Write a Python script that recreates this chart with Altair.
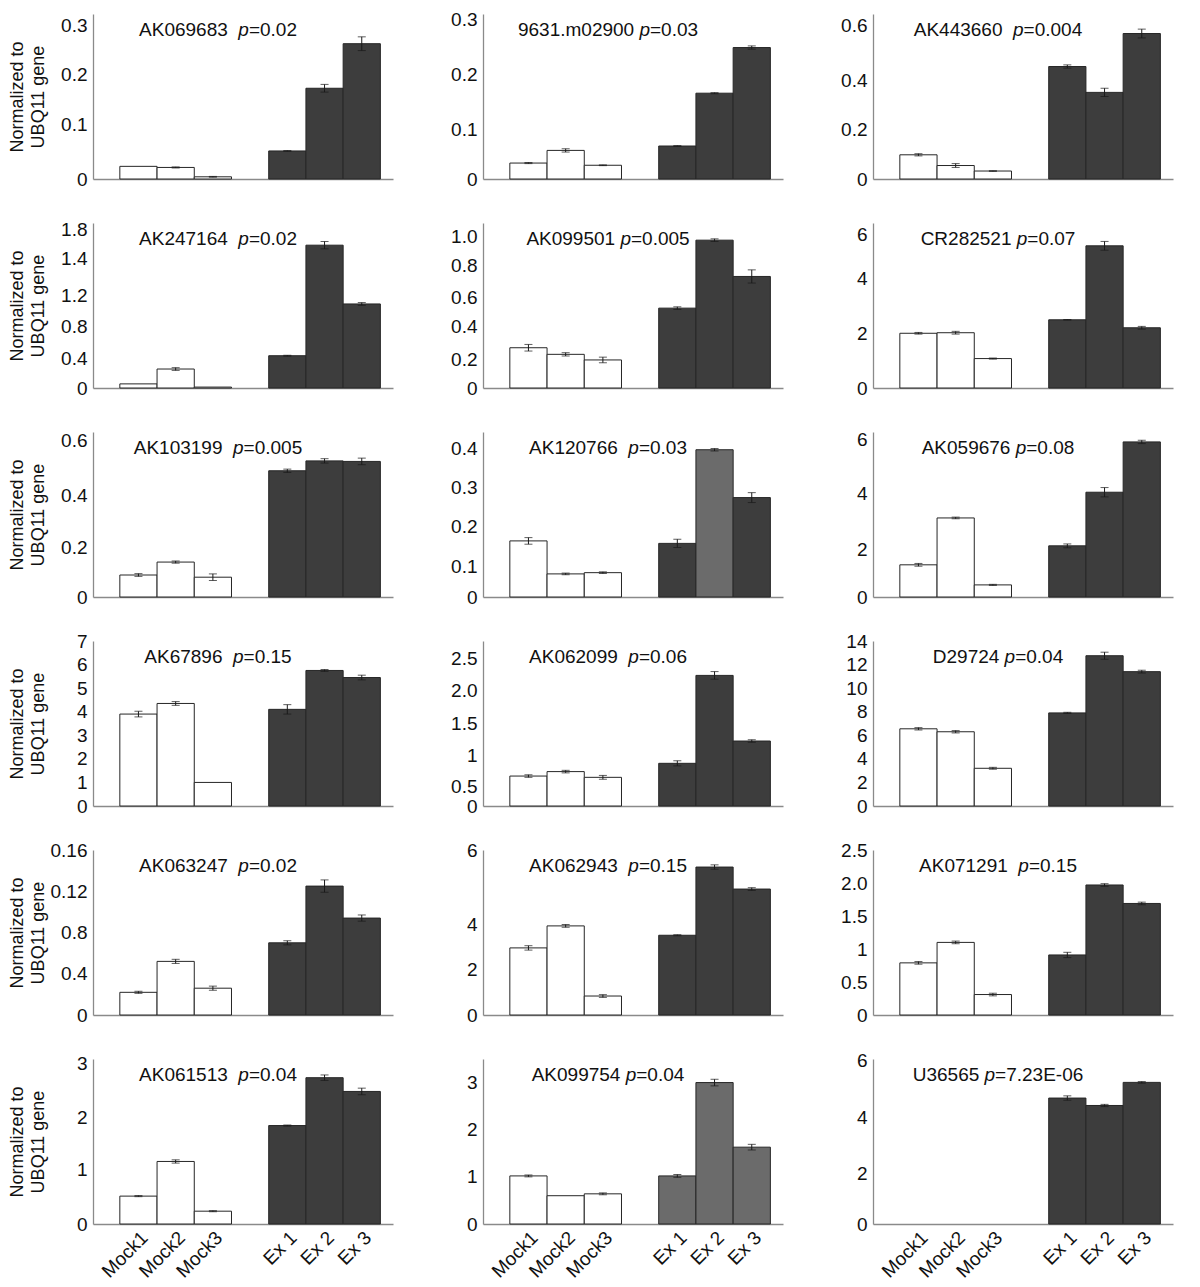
import altair as alt
import pandas as pd

# ---------------- data ----------------
GENES = ["AK069683", "9631.m02900", "AK443660",
         "AK247164", "AK099501", "CR282521",
         "AK103199", "AK120766", "AK059676",
         "AK67896", "AK062099", "D29724",
         "AK063247", "AK062943", "AK071291",
         "AK061513", "AK099754", "U36565"]
NAME_GAP = [2, 1, 2, 2, 1, 1, 2, 2, 1, 2, 2, 1, 2, 2, 2, 2, 1, 1]
PVALUES = ["0.02", "0.03", "0.004", "0.02", "0.005", "0.07",
           "0.005", "0.03", "0.08", "0.15", "0.06", "0.04",
           "0.02", "0.15", "0.15", "0.04", "0.04", "7.23E-06"]
SAMPLES = ["Mock1", "Mock2", "Mock3", "Ex 1", "Ex 2", "Ex 3"]
X_DOMAIN = ["Mock1", "Mock2", "Mock3", " ", "Ex 1", "Ex 2", "Ex 3"]

VALUES = [
    [0.023, 0.021, 0.004, 0.051, 0.165, 0.246],
    [0.029, 0.052, 0.025, 0.060, 0.156, 0.239],
    [0.088, 0.049, 0.029, 0.409, 0.315, 0.529],
    [0.045, 0.207, 0.010, 0.352, 1.558, 0.917],
    [0.244, 0.204, 0.170, 0.484, 0.896, 0.676],
    [1.99, 2.01, 1.07, 2.48, 5.17, 2.19],
    [0.080, 0.127, 0.072, 0.459, 0.495, 0.493],
    [0.136, 0.056, 0.059, 0.130, 0.357, 0.241],
    [1.17, 2.875, 0.44, 1.86, 3.81, 5.64],
    [3.9, 4.35, 1.0, 4.1, 5.75, 5.45],
    [0.47, 0.54, 0.45, 0.67, 2.05, 1.02],
    [6.55, 6.3, 3.2, 7.9, 12.75, 11.4],
    [0.022, 0.052, 0.026, 0.070, 0.125, 0.094],
    [2.44, 3.24, 0.69, 2.9, 5.38, 4.58],
    [0.79, 1.10, 0.31, 0.91, 1.97, 1.69],
    [0.507, 1.137, 0.233, 1.79, 2.66, 2.41],
    [1.02, 0.60, 0.64, 1.02, 3.0, 1.63],
    [0.0, 0.0, 0.0, 4.58, 4.31, 5.15],
]
ERRORS = [
    [0, 0.001, 0.0007, 0.0007, 0.007, 0.0125],
    [0.001, 0.003, 0.0007, 0.0007, 0.001, 0.003],
    [0.004, 0.007, 0.001, 0.006, 0.015, 0.016],
    [0, 0.015, 0, 0.005, 0.04, 0.015],
    [0.02, 0.01, 0.017, 0.008, 0.008, 0.04],
    [0.03, 0.05, 0.02, 0.01, 0.16, 0.05],
    [0.005, 0.004, 0.012, 0.006, 0.008, 0.012],
    [0.008, 0.002, 0.002, 0.01, 0.003, 0.012],
    [0.05, 0.03, 0.02, 0.07, 0.17, 0.06],
    [0.12, 0.08, 0, 0.2, 0.04, 0.1],
    [0.02, 0.02, 0.03, 0.04, 0.06, 0.02],
    [0.1, 0.1, 0.08, 0.05, 0.3, 0.12],
    [0.001, 0.002, 0.002, 0.002, 0.006, 0.003],
    [0.08, 0.05, 0.05, 0.02, 0.08, 0.05],
    [0.02, 0.02, 0.02, 0.04, 0.02, 0.02],
    [0.01, 0.03, 0.01, 0.01, 0.05, 0.06],
    [0.02, 0, 0.02, 0.03, 0.07, 0.06],
    [0, 0, 0, 0.08, 0.04, 0.03],
]
YMAX = [0.3, 0.3, 0.6, 1.8, 1.0, 6, 0.6, 0.4, 6, 7, 2.59, 14, 0.16, 6, 2.5, 3, 3.5, 6]
TICK_TEXT = [
    ["0", "0.1", "0.2", "0.3"],
    ["0", "0.1", "0.2", "0.3"],
    ["0", "0.2", "0.4", "0.6"],
    ["0", "0.4", "0.8", "1.2", "1.4", "1.8"],
    ["0", "0.2", "0.4", "0.6", "0.8", "1.0"],
    ["0", "2", "4", "6"],
    ["0", "0.2", "0.4", "0.6"],
    ["0", "0.1", "0.2", "0.3", "0.4"],
    ["0", "2", "4", "6"],
    ["0", "1", "2", "3", "4", "5", "6", "7"],
    ["0", "0.5", "1", "1.5", "2.0", "2.5"],
    ["0", "2", "4", "6", "8", "10", "12", "14"],
    ["0", "0.4", "0.8", "0.12", "0.16"],
    ["0", "2", "4", "6"],
    ["0", "0.5", "1", "1.5", "2.0", "2.5"],
    ["0", "1", "2", "3"],
    ["0", "1", "2", "3"],
    ["0", "2", "4", "6"],
]
TICK_AT = [
    [0, 0.1, 0.19, 0.28],
    [0, 0.09, 0.19, 0.29],
    [0, 0.18, 0.36, 0.56],
    [0, 0.32, 0.67, 1.01, 1.41, 1.73],
    [0, 0.17, 0.37, 0.55, 0.74, 0.92],
    [0, 2, 3.97, 5.58],
    [0, 0.18, 0.37, 0.57],
    [0, 0.074, 0.171, 0.265, 0.361],
    [0, 1.74, 3.75, 5.72],
    [0, 1, 2, 3, 4, 5, 6, 7],
    [0, 0.31, 0.79, 1.30, 1.81, 2.31],
    [0, 2, 4, 6, 8, 10, 12, 14],
    [0, 0.04, 0.08, 0.12, 0.16],
    [0, 1.64, 3.28, 6.0],
    [0, 0.5, 1, 1.5, 2.0, 2.5],
    [0, 1, 1.93, 2.92],
    [0, 1, 2, 3],
    [0, 1.84, 3.88, 5.93],
]
LIGHT_BARS = {7: ["Ex 2"], 16: ["Ex 1", "Ex 2", "Ex 3"]}

# ---------------- layout / style ----------------
W, H = 300, 165
FONT = "Liberation Sans"
FS = 19
AXIS_GRAY = "#8a8a8a"
ARIAL = {c: 0.556 for c in "0123456789"}
ARIAL.update({"A": 0.667, "K": 0.667, "C": 0.722, "R": 0.722, "D": 0.722, "U": 0.722,
              "E": 0.667, ".": 0.278, "m": 0.833, " ": 0.278, "p": 0.556, "=": 0.584,
              "-": 0.333})


def text_width(s):
    return sum(ARIAL.get(c, 0.556) for c in s) * FS


def label_expr(pos, txt):
    parts = [f"abs(datum.value - ({p})) < 1e-6 ? '{t}'" for p, t in zip(pos, txt)]
    return " : ".join(parts) + " : ''"


def panel(i):
    row, col = divmod(i, 3)
    tone = []
    for j, s in enumerate(SAMPLES):
        if j < 3:
            tone.append("mock")
        elif s in LIGHT_BARS.get(i, []):
            tone.append("light")
        else:
            tone.append("ex")
    df = pd.DataFrame({"sample": SAMPLES, "value": VALUES[i], "err": ERRORS[i], "tone": tone})
    df["lo"] = df["value"] - df["err"]
    df["hi"] = df["value"] + df["err"]
    bars_df = df[df["value"] > 0]
    err_df = df[df["err"] > 0]

    xscale = alt.Scale(domain=X_DOMAIN, paddingInner=0, paddingOuter=0.53, align=0.68)
    bottom = row == 5
    xaxis = alt.Axis(title=None, labels=bottom, ticks=False, labelAngle=-45,
                     labelFontSize=FS, labelFont=FONT, labelColor="#111",
                     labelPadding=4, domainColor=AXIS_GRAY, domainWidth=1.3,
                     minExtent=0, labelAlign="right", labelBaseline="top")
    yscale = alt.Scale(domain=[0, YMAX[i]], nice=False, zero=True)
    ykw = dict(values=TICK_AT[i], labelExpr=label_expr(TICK_AT[i], TICK_TEXT[i]),
               ticks=False, grid=False, labelFontSize=FS, labelFont=FONT,
               labelColor="#111", labelPadding=6, labelOverlap=False,
               domainColor=AXIS_GRAY, domainWidth=1.3, minExtent=44, maxExtent=44)
    if col == 0:
        yaxis = alt.Axis(title=["Normalized to", "UBQ11 gene"], titleFontSize=18,
                         titleFont=FONT, titleFontWeight="normal", titleColor="#111",
                         titleLineHeight=21, titlePadding=2, **ykw)
    else:
        yaxis = alt.Axis(title=None, **ykw)

    X = lambda: alt.X("sample:N", scale=xscale, axis=xaxis)

    bars = alt.Chart(bars_df).mark_bar(stroke="#262626", strokeWidth=1).encode(
        x=X(),
        y=alt.Y("value:Q", scale=yscale, axis=yaxis),
        fill=alt.Fill("tone:N", legend=None,
                      scale=alt.Scale(domain=["mock", "ex", "light"],
                                      range=["#ffffff", "#3d3d3d", "#6b6b6b"])),
    )
    rule = alt.Chart(err_df).mark_rule(color="#1a1a1a", strokeWidth=1).encode(
        x=X(), y=alt.Y("lo:Q", scale=yscale, axis=yaxis), y2="hi:Q")
    cap_lo = alt.Chart(err_df).mark_tick(color="#1a1a1a", thickness=1, size=8).encode(
        x=X(), y=alt.Y("lo:Q", scale=yscale, axis=yaxis))
    cap_hi = alt.Chart(err_df).mark_tick(color="#1a1a1a", thickness=1, size=8).encode(
        x=X(), y=alt.Y("hi:Q", scale=yscale, axis=yaxis))

    name = GENES[i] + " " * NAME_GAP[i]
    rest = "=" + PVALUES[i]
    total = text_width(name) + text_width("p") + text_width(rest)
    x0 = 125 - total / 2
    ty = 16
    tkw = dict(fontSize=FS, font=FONT, color="#111", align="left", baseline="middle")
    t1 = alt.Chart(pd.DataFrame({"t": [GENES[i]]})).mark_text(**tkw).encode(
        text="t:N", x=alt.value(x0), y=alt.value(ty))
    t2 = alt.Chart(pd.DataFrame({"t": ["p"]})).mark_text(fontStyle="italic", **tkw).encode(
        text="t:N", x=alt.value(x0 + text_width(name)), y=alt.value(ty))
    t3 = alt.Chart(pd.DataFrame({"t": [rest]})).mark_text(**tkw).encode(
        text="t:N", x=alt.value(x0 + text_width(name) + text_width("p")), y=alt.value(ty))

    return alt.layer(bars, rule, cap_lo, cap_hi, t1, t2, t3).properties(width=W, height=H)


panels = [panel(i) for i in range(18)]

chart = alt.ConcatChart(
    concat=panels, columns=3, spacing={"row": 44, "column": 90},
    bounds="flush", align="each",
    padding={"left": 0, "right": 4, "top": 2, "bottom": 2},
).resolve_scale(y="independent").configure(background="white").configure_view(stroke="transparent", strokeWidth=0)

chart.save("out.html", embed_options={"renderer": "svg", "actions": False})
